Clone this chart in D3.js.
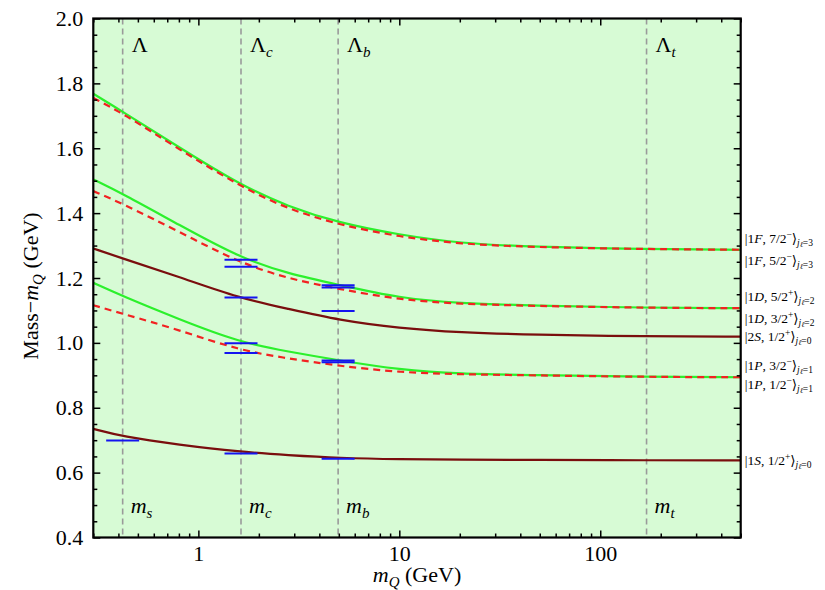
<!DOCTYPE html>
<html>
<head>
<meta charset="utf-8">
<script src="https://cdn.jsdelivr.net/npm/d3@7"></script>
<style>
body { margin: 0; background: #fff; }
text { font-family: "Liberation Serif", "DejaVu Serif", serif; }
</style>
</head>
<body>
<div id="chart"></div>
<script>
// heavy quark mass samples (GeV) and the curves read at them
var mQ = [0.3, 0.42, 0.8, 1.6, 2.8, 5, 10, 20, 46, 170, 500];

var f72 = [1.768, 1.713, 1.603, 1.488, 1.420, 1.370, 1.333, 1.307, 1.296, 1.289, 1.287];
var f52 = [1.755, 1.708, 1.597, 1.484, 1.412, 1.364, 1.327, 1.305, 1.295, 1.289, 1.287];
var d52 = [1.504, 1.460, 1.364, 1.263, 1.213, 1.179, 1.138, 1.122, 1.115, 1.108, 1.107];
var d32 = [1.468, 1.429, 1.343, 1.247, 1.198, 1.166, 1.133, 1.120, 1.114, 1.108, 1.107];
var s2 = [1.291, 1.260, 1.204, 1.138, 1.105, 1.070, 1.045, 1.032, 1.025, 1.020, 1.019];
var p32 = [1.185, 1.144, 1.073, 1.002, 0.973, 0.946, 0.917, 0.904, 0.901, 0.895, 0.894];
var p12 = [1.116, 1.090, 1.040, 0.977, 0.952, 0.929, 0.909, 0.903, 0.900, 0.895, 0.894];
var s1 = [0.735, 0.711, 0.686, 0.664, 0.654, 0.645, 0.641, 0.640, 0.639, 0.638, 0.638];

// quark masses (dashed lines)
var quarkMass = [0.42, 1.63, 4.96, 170];
var quarkName = ["s", "c", "b", "t"];
var baryonSub = ["", "c", "b", "t"];

// experimental points (blue bars)
var expMass = [0.42, 1.63, 1.63, 1.63, 1.63, 1.63, 1.63, 4.96, 4.96, 4.96, 4.96, 4.96, 4.96];
var expValue = [0.699, 1.256, 1.235, 1.140, 0.999, 0.969, 0.659, 1.178, 1.171, 1.098, 0.946, 0.940, 0.643];

// state labels on the right
var stateL = ["F", "F", "D", "D", "S", "P", "P", "S"];
var stateN = ["1", "1", "1", "1", "2", "1", "1", "1"];
var stateJ = ["7/2", "5/2", "5/2", "3/2", "1/2", "3/2", "1/2", "1/2"];
var stateP = ["−", "−", "+", "+", "+", "−", "−", "+"];
var stateJl = [3, 3, 2, 2, 0, 1, 1, 0];

var xMajor = [1, 10, 100];
var yMajor = [0.4, 0.6, 0.8, 1.0, 1.2, 1.4, 1.6, 1.8, 2.0];

var green = "#2cf02c", red = "#f22222", brown = "#7a0e0e", blue = "#1414f0";
var series = [
    { v: f72, c: green, dash: null },
    { v: f52, c: red, dash: "7,5" },
    { v: d52, c: green, dash: null },
    { v: d32, c: red, dash: "7,5" },
    { v: s2, c: brown, dash: null },
    { v: p32, c: green, dash: null },
    { v: p12, c: red, dash: "7,5" },
    { v: s1, c: brown, dash: null }
];
// label offsets (px) from the curve end
var labelDy = [-11, 11, -11, 11, 0, -11, 8, 1];

var svgWidth = 825, svgHeight = 590;
var pL = 93.3, pR = 740.7, pT = 18.5, pB = 537.5;

var svg = d3.select("#chart").append("svg")
    .attr("width", svgWidth)
    .attr("height", svgHeight);

var x = d3.scaleLog().domain([0.3, 500]).range([pL, pR]);
var y = d3.scaleLinear().domain([0.4, 2.0]).range([pB, pT]);

svg.append("rect")
    .attr("x", pL).attr("y", pT)
    .attr("width", pR - pL).attr("height", pB - pT)
    .attr("fill", "#d7fbd5");

svg.append("clipPath").attr("id", "clip")
    .append("rect")
    .attr("x", pL).attr("y", pT)
    .attr("width", pR - pL).attr("height", pB - pT);

var plot = svg.append("g").attr("clip-path", "url(#clip)");

// dashed quark mass lines
plot.selectAll(".qline").data(quarkMass).enter().append("line")
    .attr("x1", d => x(d)).attr("x2", d => x(d))
    .attr("y1", pT).attr("y2", pB)
    .attr("stroke", "#9a9a9a")
    .attr("stroke-width", 1.6)
    .attr("stroke-dasharray", "6,4");

var line = d3.line()
    .x((d, i) => x(mQ[i]))
    .y(d => y(d))
    .curve(d3.curveBasis);

plot.selectAll(".curve").data(series).enter().append("path")
    .attr("fill", "none")
    .attr("stroke", d => d.c)
    .attr("stroke-width", 2.2)
    .attr("stroke-dasharray", d => d.dash)
    .attr("d", d => line(d.v));

// experimental bars
var barHalf = 16.5;
plot.selectAll(".bar").data(expValue).enter().append("line")
    .attr("x1", (d, i) => x(expMass[i]) - barHalf)
    .attr("x2", (d, i) => x(expMass[i]) + barHalf)
    .attr("y1", d => y(d)).attr("y2", d => y(d))
    .attr("stroke", blue)
    .attr("stroke-width", 2);

// baryon and quark labels
var bl = svg.selectAll(".blab").data(quarkMass).enter().append("text")
    .attr("x", d => x(d) + 9)
    .attr("y", 52)
    .attr("font-size", 22);
bl.append("tspan").text("Λ");
bl.append("tspan").attr("font-style", "italic").attr("font-size", 15).attr("dy", 5)
    .text((d, i) => baryonSub[i]);

var ql = svg.selectAll(".qlab").data(quarkMass).enter().append("text")
    .attr("x", d => x(d) + 8)
    .attr("y", 513)
    .attr("font-size", 22)
    .attr("font-style", "italic");
ql.append("tspan").text("m");
ql.append("tspan").attr("font-size", 15).attr("dy", 5).text((d, i) => quarkName[i]);

// axes
function styleAxis(sel) {
    sel.select(".domain").remove();
    sel.selectAll("line").attr("stroke", "#000").attr("stroke-width", 1.5);
    sel.selectAll("text").attr("font-size", 22).attr("fill", "#000")
        .attr("font-family", "Liberation Serif, serif");
}
var minorX = x.ticks().filter(d => xMajor.indexOf(d) < 0);
var minorY = d3.range(0.45, 2.0, 0.05).filter(d => Math.abs(Math.round(d * 5) - d * 5) > 0.01);

svg.append("g").attr("transform", "translate(0," + pB + ")")
    .call(d3.axisBottom(x).tickValues(xMajor).tickFormat(d3.format("d")).tickSize(-7).tickPadding(8))
    .call(styleAxis);
svg.append("g").attr("transform", "translate(0," + pB + ")")
    .call(d3.axisBottom(x).tickValues(minorX).tickFormat("").tickSize(-4))
    .call(styleAxis);
svg.append("g").attr("transform", "translate(0," + pT + ")")
    .call(d3.axisTop(x).tickValues(xMajor).tickFormat("").tickSize(-7))
    .call(styleAxis);
svg.append("g").attr("transform", "translate(0," + pT + ")")
    .call(d3.axisTop(x).tickValues(minorX).tickFormat("").tickSize(-4))
    .call(styleAxis);

svg.append("g").attr("transform", "translate(" + pL + ",0)")
    .call(d3.axisLeft(y).tickValues(yMajor).tickFormat(d3.format(".1f")).tickSize(-7).tickPadding(10))
    .call(styleAxis);
svg.append("g").attr("transform", "translate(" + pL + ",0)")
    .call(d3.axisLeft(y).tickValues(minorY).tickFormat("").tickSize(-4))
    .call(styleAxis);
svg.append("g").attr("transform", "translate(" + pR + ",0)")
    .call(d3.axisRight(y).tickValues(yMajor).tickFormat("").tickSize(-7))
    .call(styleAxis);
svg.append("g").attr("transform", "translate(" + pR + ",0)")
    .call(d3.axisRight(y).tickValues(minorY).tickFormat("").tickSize(-4))
    .call(styleAxis);

svg.append("rect")
    .attr("x", pL).attr("y", pT)
    .attr("width", pR - pL).attr("height", pB - pT)
    .attr("fill", "none").attr("stroke", "#000").attr("stroke-width", 2.2);

// axis titles
var xt = svg.append("text")
    .attr("x", (pL + pR) / 2).attr("y", 582)
    .attr("text-anchor", "middle").attr("font-size", 22);
xt.append("tspan").attr("font-style", "italic").text("m");
xt.append("tspan").attr("font-style", "italic").attr("font-size", 15).attr("dy", 5).text("Q");
xt.append("tspan").attr("dy", -5).text(" (GeV)");

var yt = svg.append("text")
    .attr("transform", "translate(38," + ((pT + pB) / 2 + 8) + ") rotate(-90)")
    .attr("text-anchor", "middle").attr("font-size", 22);
yt.append("tspan").text("Mass−");
yt.append("tspan").attr("font-style", "italic").text("m");
yt.append("tspan").attr("font-style", "italic").attr("font-size", 15).attr("dy", 5).text("Q");
yt.append("tspan").attr("dy", -5).text(" (GeV)");

// state labels
var last = mQ.length - 1;
var sl = svg.selectAll(".slab").data(series).enter().append("text")
    .attr("x", pR + 4)
    .attr("y", (d, i) => y(d.v[last]) + labelDy[i] + 4)
    .attr("font-size", 13.5);
sl.append("tspan").text((d, i) => "|" + stateN[i]);
sl.append("tspan").attr("font-style", "italic").text((d, i) => stateL[i]);
sl.append("tspan").text((d, i) => ", " + stateJ[i]);
sl.append("tspan").attr("font-size", 9.5).attr("dy", -5).text((d, i) => stateP[i]);
sl.append("tspan").attr("dy", 5).text("⟩");
sl.append("tspan").attr("font-size", 9.5).attr("dy", 3).attr("font-style", "italic").text("j");
sl.append("tspan").attr("font-size", 7.5).attr("dy", 1).attr("font-style", "italic").text("ℓ");
sl.append("tspan").attr("font-size", 9.5).attr("dy", -1).text((d, i) => "=" + stateJl[i]);
</script>
</body>
</html>
